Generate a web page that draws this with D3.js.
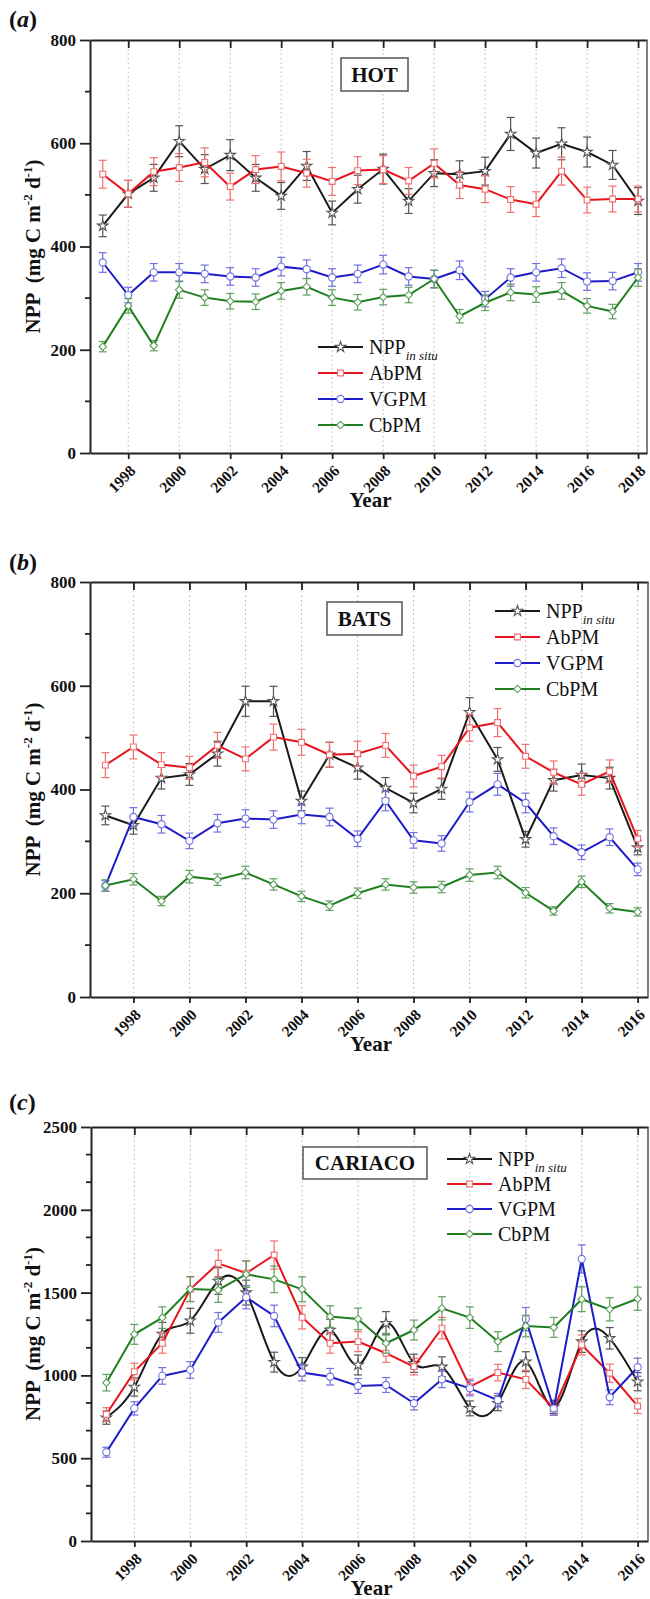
<!DOCTYPE html>
<html>
<head>
<meta charset="utf-8">
<script src="https://cdn.jsdelivr.net/npm/d3@7/dist/d3.min.js"></script>
<style>
  body { margin: 0; background: #fff; }
  svg, svg text { font-family: "Liberation Serif", "Times New Roman", Times, "DejaVu Serif", serif !important; }
  svg { display: block; }
</style>
</head>
<body>
<svg id="chart" width="650" height="1599"></svg>
<script>

var series_names = ["NPP", "AbPM", "VGPM", "CbPM"];

// (a) HOT
var hot_years = [1997, 1998, 1999, 2000, 2001, 2002, 2003, 2004, 2005, 2006, 2007,
  2008, 2009, 2010, 2011, 2012, 2013, 2014, 2015, 2016, 2017, 2018];
var hot_xticks = [1998, 2000, 2002, 2004, 2006, 2008, 2010, 2012, 2014, 2016, 2018];
var hot_yticks = [0, 200, 400, 600, 800];
var hot_npp  = [440, 502, 533, 604, 550, 577, 533, 498, 556, 465, 511, 550, 488, 542, 540, 546, 618, 581, 599, 583, 558, 488];
var hot_abpm = [540, 502, 545, 553, 563, 516, 549, 555, 542, 526, 547, 549, 527, 561, 519, 511, 491, 482, 546, 490, 492, 492];
var hot_vgpm = [369, 306, 350, 350, 347, 342, 340, 361, 356, 340, 347, 365, 342, 337, 354, 298, 340, 350, 358, 332, 333, 350];
var hot_cbpm = [206, 285, 208, 316, 301, 294, 293, 314, 322, 301, 292, 302, 306, 337, 265, 291, 311, 307, 314, 285, 274, 340];
var hot_npp_err  = [21, 26, 26, 30, 28, 30, 26, 26, 28, 23, 27, 29, 24, 26, 26, 27, 32, 29, 31, 29, 28, 26];
var hot_abpm_err = [27, 26, 27, 27, 28, 26, 27, 28, 27, 27, 27, 27, 26, 28, 26, 26, 25, 24, 27, 25, 25, 25];
var hot_vgpm_err = [19, 15, 17, 17, 17, 17, 17, 18, 18, 17, 17, 18, 17, 17, 18, 15, 17, 17, 18, 17, 17, 17];
var hot_cbpm_err = [10, 14, 10, 16, 15, 15, 15, 16, 16, 15, 15, 15, 15, 17, 13, 15, 16, 15, 16, 14, 14, 17];

// (b) BATS
var bats_years = [1997, 1998, 1999, 2000, 2001, 2002, 2003, 2004, 2005, 2006, 2007,
  2008, 2009, 2010, 2011, 2012, 2013, 2014, 2015, 2016];
var bats_xticks = [1998, 2000, 2002, 2004, 2006, 2008, 2010, 2012, 2014, 2016];
var bats_yticks = [0, 200, 400, 600, 800];
var bats_npp  = [350, 331, 422, 429, 469, 570, 570, 378, 467, 442, 403, 374, 401, 549, 458, 304, 418, 428, 422, 288];
var bats_abpm = [447, 482, 448, 442, 485, 459, 501, 491, 467, 469, 485, 426, 444, 519, 529, 464, 433, 410, 435, 305];
var bats_vgpm = [214, 347, 333, 301, 335, 344, 342, 352, 347, 305, 378, 302, 296, 376, 410, 374, 310, 279, 308, 246];
var bats_cbpm = [215, 227, 185, 232, 226, 240, 217, 194, 176, 200, 217, 211, 212, 235, 240, 201, 166, 222, 171, 164];
var bats_npp_err  = [18, 17, 21, 21, 24, 29, 29, 19, 24, 22, 20, 19, 20, 28, 23, 15, 21, 21, 21, 14];
var bats_abpm_err = [24, 23, 23, 22, 25, 23, 25, 25, 24, 24, 23, 21, 22, 26, 27, 23, 22, 21, 22, 16];
var bats_vgpm_err = [10, 18, 17, 15, 17, 17, 17, 18, 17, 15, 19, 15, 15, 19, 21, 19, 16, 14, 16, 12];
var bats_cbpm_err = [11, 11, 9, 12, 11, 12, 11, 10, 9, 10, 11, 11, 11, 12, 12, 10, 8, 11, 9, 8];

// (c) CARIACO
var car_years = [1997, 1998, 1999, 2000, 2001, 2002, 2003, 2004, 2005, 2006, 2007,
  2008, 2009, 2010, 2011, 2012, 2013, 2014, 2015, 2016];
var car_xticks = [1998, 2000, 2002, 2004, 2006, 2008, 2010, 2012, 2014, 2016];
var car_yticks = [0, 500, 1000, 1500, 2000, 2500];
var car_npp  = [745, 930, 1250, 1330, 1570, 1500, 1080, 1052, 1274, 1063, 1315, 1073, 1052, 801, 832, 1083, 810, 1204, 1224, 962];
var car_abpm = [765, 1023, 1194, 1520, 1677, 1617, 1727, 1351, 1194, 1204, 1134, 1053, 1285, 932, 1017, 976, 800, 1184, 1013, 815];
var car_vgpm = [536, 801, 997, 1033, 1320, 1472, 1359, 1017, 992, 936, 942, 832, 976, 922, 851, 1340, 800, 1703, 868, 1049];
var car_cbpm = [956, 1248, 1349, 1522, 1516, 1611, 1580, 1520, 1355, 1341, 1194, 1274, 1405, 1349, 1204, 1298, 1290, 1460, 1399, 1463];
var car_npp_err  = [40, 55, 70, 75, 80, 75, 60, 55, 65, 60, 70, 55, 60, 45, 45, 60, 40, 65, 65, 55];
var car_abpm_err = [40, 50, 60, 75, 80, 75, 85, 70, 60, 60, 55, 50, 65, 45, 50, 55, 40, 60, 55, 45];
var car_vgpm_err = [30, 40, 50, 50, 60, 70, 65, 50, 50, 45, 45, 40, 50, 45, 40, 70, 40, 85, 45, 55];
var car_cbpm_err = [50, 60, 65, 75, 75, 80, 80, 75, 65, 65, 60, 60, 70, 65, 60, 65, 60, 75, 70, 70];

var line_colors   = ["#1a1a1a", "#e8141c", "#1c1cc8", "#1f7f1f"];
var marker_colors = ["#555555", "#f07070", "#7070e0", "#5f9f5f"];

var panels = [
  {letter: "a", station: "HOT", years: hot_years, xticks: hot_xticks, yticks: hot_yticks,
   values: [hot_npp, hot_abpm, hot_vgpm, hot_cbpm],
   errors: [hot_npp_err, hot_abpm_err, hot_vgpm_err, hot_cbpm_err],
   minor: 1, top: 40, bottom: 453, left: 90, right: 647, xdomain: [1996.5, 2018.35],
   letter_y: 27, box: [341, 58, 67, 33], legend: [318, 347, 26], spline: false},
  {letter: "b", station: "BATS", years: bats_years, xticks: bats_xticks, yticks: bats_yticks,
   values: [bats_npp, bats_abpm, bats_vgpm, bats_cbpm],
   errors: [bats_npp_err, bats_abpm_err, bats_vgpm_err, bats_cbpm_err],
   minor: 1, top: 582, bottom: 997, left: 90, right: 648, xdomain: [1996.45, 2016.37],
   letter_y: 570, box: [327, 602, 75, 33], legend: [495, 611, 26], spline: false},
  {letter: "c", station: "CARIACO", years: car_years, xticks: car_xticks, yticks: car_yticks,
   values: [car_npp, car_abpm, car_vgpm, car_cbpm],
   errors: [car_npp_err, car_abpm_err, car_vgpm_err, car_cbpm_err],
   minor: 2, top: 1127, bottom: 1541, left: 91, right: 648, xdomain: [1996.45, 2016.37],
   letter_y: 1110, box: [303, 1147, 124, 32], legend: [447, 1159, 25], spline: true}
];

// marker path for a series index
function marker(i, g, color){
  if (i == 2) {
    g.append("circle").attr("r", 3.6)
      .attr("fill", "#fff").attr("stroke", color).attr("stroke-width", 1.1);
    return;
  }
  var type = [d3.symbolStar, d3.symbolSquare, null, d3.symbolSquare][i];
  var size = [34, 34, 0, 28][i];
  g.append("path")
    .attr("d", d3.symbol().type(type).size(size)())
    .attr("transform", i == 3 ? "rotate(45)" : null)
    .attr("fill", "#fff").attr("stroke", color).attr("stroke-width", 1.1);
}

function draw_panel(svg, p){

  var x = d3.scaleLinear().domain(p.xdomain).range([p.left, p.right]);
  var ymax = p.yticks[p.yticks.length - 1];
  var y = d3.scaleLinear().domain([0, ymax]).range([p.bottom, p.top]);

  var g = svg.append("g");

  // dotted lines at labelled years
  g.selectAll(".grid").data(p.xticks).enter().append("line")
    .attr("x1", function(d){ return x(d); })
    .attr("x2", function(d){ return x(d); })
    .attr("y1", p.top).attr("y2", p.bottom)
    .attr("stroke", "#b5b5b5").attr("stroke-width", 1)
    .attr("stroke-dasharray", "1.5,3");

  // series
  for (var i = 0; i < 4; i++) {
    var pts = p.years.map(function(yr, j){
      return {x: yr, v: p.values[i][j], e: p.errors[i][j]};
    });
    var curve = (p.spline && i == 0) ? d3.curveNatural : d3.curveLinear;
    var line = d3.line()
      .x(function(d){ return x(d.x); })
      .y(function(d){ return y(d.v); })
      .curve(curve);

    var sg = g.append("g");
    var eb = sg.selectAll(".err").data(pts).enter().append("g")
      .attr("stroke", marker_colors[i]).attr("stroke-width", 1.2);
    eb.append("line")
      .attr("x1", function(d){ return x(d.x); }).attr("x2", function(d){ return x(d.x); })
      .attr("y1", function(d){ return y(d.v - d.e); }).attr("y2", function(d){ return y(d.v + d.e); });
    eb.append("line")
      .attr("x1", function(d){ return x(d.x) - 4; }).attr("x2", function(d){ return x(d.x) + 4; })
      .attr("y1", function(d){ return y(d.v + d.e); }).attr("y2", function(d){ return y(d.v + d.e); });
    eb.append("line")
      .attr("x1", function(d){ return x(d.x) - 4; }).attr("x2", function(d){ return x(d.x) + 4; })
      .attr("y1", function(d){ return y(d.v - d.e); }).attr("y2", function(d){ return y(d.v - d.e); });

    sg.append("path").datum(pts)
      .attr("d", line)
      .attr("fill", "none")
      .attr("stroke", line_colors[i])
      .attr("stroke-width", 2);

    sg.selectAll(".mk").data(pts).enter().append("g")
      .attr("transform", function(d){ return "translate(" + x(d.x) + "," + y(d.v) + ")"; })
      .each(function(){ marker(i, d3.select(this), marker_colors[i]); });
  }

  // axes
  var axis_color = "#222";
  var left = g.append("g").attr("transform", "translate(" + p.left + ",0)")
    .call(d3.axisLeft(y).tickValues(p.yticks).tickFormat(d3.format("d"))
      .tickSize(10).tickPadding(4).tickSizeOuter(0));
  var bottom = g.append("g").attr("transform", "translate(0," + p.bottom + ")")
    .call(d3.axisBottom(x).tickValues(p.xticks).tickFormat(d3.format("d"))
      .tickSize(6).tickSizeOuter(0));
  var top = g.append("g").attr("transform", "translate(0," + p.top + ")")
    .call(d3.axisTop(x).tickValues(p.xticks).tickSize(-8).tickSizeOuter(0).tickFormat(""));

  [left, bottom, top].forEach(function(a){
    a.attr("font-family", null);
    a.select(".domain").attr("stroke", axis_color).attr("stroke-width", 2);
    a.selectAll(".tick line").attr("stroke", axis_color).attr("stroke-width", 1.8);
  });
  g.append("line")
    .attr("x1", p.right).attr("x2", p.right).attr("y1", p.top).attr("y2", p.bottom)
    .attr("stroke", "#555").attr("stroke-width", 1.5);

  left.selectAll("text")
    .attr("font-weight", "bold")
    .attr("font-size", 17).attr("fill", "#111");
  bottom.selectAll("text")
    .attr("font-weight", "bold")
    .attr("font-size", 15.5).attr("fill", "#111")
    .attr("text-anchor", "end")
    .attr("x", 0).attr("y", 0).attr("dy", "0.35em")
    .attr("transform", "translate(4,15) rotate(-45)");

  // minor y ticks
  var minors = [];
  for (var k = 0; k < p.yticks.length - 1; k++) {
    var step = (p.yticks[k + 1] - p.yticks[k]) / (p.minor + 1);
    for (var m = 1; m <= p.minor; m++) minors.push(p.yticks[k] + m * step);
  }
  g.selectAll(".minor").data(minors).enter().append("line")
    .attr("x1", p.left - 5).attr("x2", p.left)
    .attr("y1", function(d){ return y(d); }).attr("y2", function(d){ return y(d); })
    .attr("stroke", axis_color).attr("stroke-width", 1.8);

  // panel letter
  var lt = g.append("text").attr("x", 9).attr("y", p.letter_y)
    .attr("font-size", 24).attr("font-weight", "bold").attr("fill", "#111");
  lt.append("tspan").text("(");
  lt.append("tspan").attr("font-style", "italic").text(p.letter);
  lt.append("tspan").text(")");

  // y title
  var cy = (p.top + p.bottom) / 2;
  var yt = g.append("text")
    .attr("transform", "translate(40," + cy + ") rotate(-90)")
    .attr("text-anchor", "middle")
    .attr("font-size", 21).attr("font-weight", "bold").attr("fill", "#111")
    .style("white-space", "pre");
  yt.append("tspan").text("NPP  (mg C m");
  yt.append("tspan").attr("font-size", 13).attr("dy", -8).text("-2");
  yt.append("tspan").attr("dy", 8).text(" d");
  yt.append("tspan").attr("font-size", 13).attr("dy", -8).text("-1");
  yt.append("tspan").attr("dy", 8).text(")");

  // x title
  g.append("text")
    .attr("x", (p.left + p.right) / 2 + 2).attr("y", p.bottom + 54)
    .attr("text-anchor", "middle")
    .attr("font-size", 21).attr("font-weight", "bold").attr("fill", "#111")
    .text("Year");

  // station box
  g.append("rect")
    .attr("x", p.box[0]).attr("y", p.box[1]).attr("width", p.box[2]).attr("height", p.box[3])
    .attr("fill", "#fff").attr("stroke", "#555").attr("stroke-width", 1.5);
  g.append("text")
    .attr("x", p.box[0] + p.box[2] / 2).attr("y", p.box[1] + p.box[3] / 2)
    .attr("dy", "0.35em").attr("text-anchor", "middle")
    .attr("font-size", 21).attr("font-weight", "bold").attr("fill", "#111")
    .text(p.station);

  // legend
  var lx = p.legend[0];
  for (var i = 0; i < 4; i++) {
    var ly = p.legend[1] + i * p.legend[2];
    g.append("line").attr("x1", lx).attr("x2", lx + 45).attr("y1", ly).attr("y2", ly)
      .attr("stroke", line_colors[i]).attr("stroke-width", 2);
    var mg = g.append("g").attr("transform", "translate(" + (lx + 22.5) + "," + ly + ")");
    marker(i, mg, marker_colors[i]);
    var tx = g.append("text").attr("x", lx + 51).attr("y", ly).attr("dy", "0.35em")
      .attr("font-size", 20).attr("fill", "#111");
    tx.append("tspan").text(series_names[i]);
    if (i == 0) {
      tx.append("tspan").attr("font-size", 13).attr("font-style", "italic")
        .attr("dy", 6).text("in situ");
    }
  }
}

var svg = d3.select("#chart");
panels.forEach(function(p){ draw_panel(svg, p); });

</script>
</body>
</html>
